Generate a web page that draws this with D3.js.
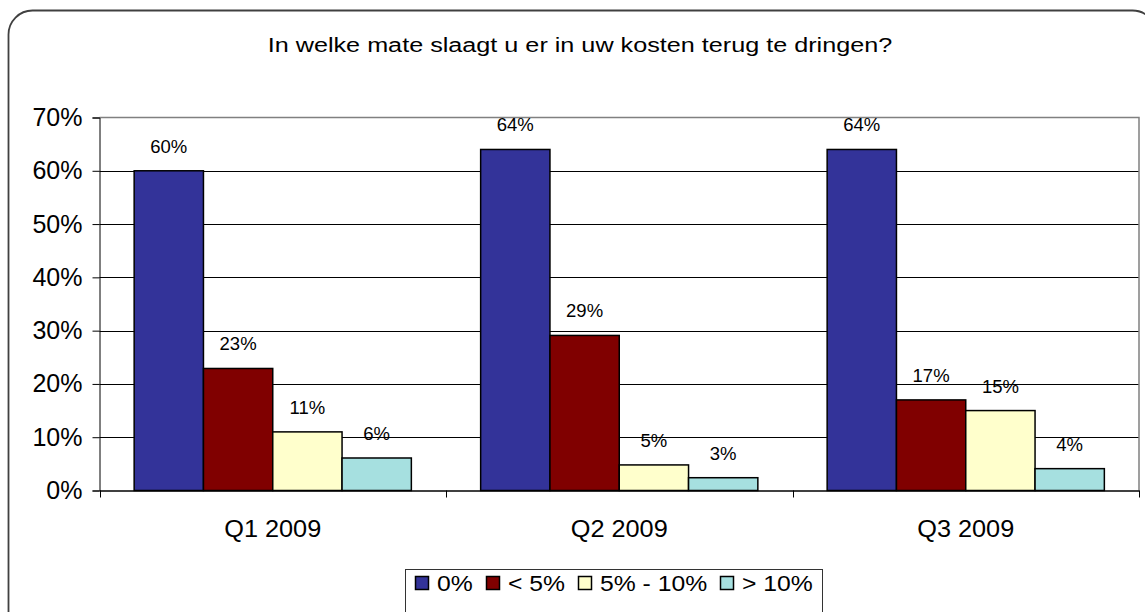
<!DOCTYPE html>
<html>
<head>
<meta charset="utf-8">
<script src="https://cdn.jsdelivr.net/npm/d3@7"></script>
<style>
body { margin: 0; background: #fff; }
text { font-family: "Liberation Sans", Arial, sans-serif; fill: #000; }
</style>
</head>
<body>
<script>
var title = "In welke mate slaagt u er in uw kosten terug te dringen?";
var quarters = ["Q1 2009", "Q2 2009", "Q3 2009"];
var seriesNames = ["0%", "< 5%", "5% - 10%", "> 10%"];
var seriesColors = ["#333399", "#800000", "#ffffcc", "#a6e0e0"];
// values per series, one per quarter (in %)
var s0 = [60, 64, 64];
var s1 = [22.9, 29.1, 17];
var s2 = [11, 4.8, 15];
var s3 = [6.1, 2.4, 4.1];
var labels = [["60%", "64%", "64%"], ["23%", "29%", "17%"], ["11%", "5%", "15%"], ["6%", "3%", "4%"]];
var yTicks = [0, 10, 20, 30, 40, 50, 60, 70];

var series = [s0, s1, s2, s3];

var W = 1145, H = 612;
var plot = {left: 99.5, top: 117.5, right: 1139, bottom: 490.5};

var svg = d3.select("body").append("svg")
    .attr("width", W)
    .attr("height", H);

// outer frame with rounded corners (runs off the right and bottom)
svg.append("rect")
    .attr("x", 8.5).attr("y", 10.5)
    .attr("width", 1148).attr("height", 640)
    .attr("rx", 24).attr("ry", 24)
    .attr("fill", "#fff")
    .attr("stroke", "#404040").attr("stroke-width", 1.8);

// title, widened horizontally like the source picture
svg.append("text")
    .attr("transform", "translate(580,52) scale(1.2,1)")
    .attr("text-anchor", "middle")
    .attr("font-size", "21px")
    .text(title);

var x0 = d3.scaleBand()
    .domain(quarters)
    .range([plot.left, plot.right]);

var x1 = d3.scaleBand()
    .domain(d3.range(series.length))
    .range([0, x0.bandwidth()])
    .paddingOuter(0.5);

var y = d3.scaleLinear()
    .domain([0, 70])
    .range([plot.bottom, plot.top]);

// gridlines
svg.append("g").selectAll("line")
    .data(yTicks.filter(function(d) { return d > 0 && d < 70; }))
    .enter().append("line")
    .attr("x1", plot.left).attr("x2", plot.right)
    .attr("y1", function(d) { return Math.round(y(d)) + 0.5; })
    .attr("y2", function(d) { return Math.round(y(d)) + 0.5; })
    .attr("stroke", "#000").attr("stroke-width", 1);

// plot border top + right (grey)
svg.append("path")
    .attr("d", "M" + plot.left + "," + plot.top + "H" + plot.right + "V" + plot.bottom)
    .attr("fill", "none").attr("stroke", "#808080").attr("stroke-width", 1.5);

// bars
var groups = svg.append("g").selectAll("g")
    .data(series)
    .enter().append("g");

groups.selectAll("rect")
    .data(function(d, i) { return d.map(function(v, j) { return {s: i, q: j, v: v}; }); })
    .enter().append("rect")
    .attr("x", function(d) { return x0(quarters[d.q]) + x1(d.s); })
    .attr("y", function(d) { return y(d.v); })
    .attr("width", x1.bandwidth())
    .attr("height", function(d) { return y(0) - y(d.v); })
    .attr("fill", function(d) { return seriesColors[d.s]; })
    .attr("stroke", "#000").attr("stroke-width", 1.5);

groups.selectAll("text")
    .data(function(d, i) { return d.map(function(v, j) { return {s: i, q: j, v: v}; }); })
    .enter().append("text")
    .attr("x", function(d) { return x0(quarters[d.q]) + x1(d.s) + x1.bandwidth() / 2; })
    .attr("y", function(d) { return y(d.v) - 18; })
    .attr("text-anchor", "middle")
    .attr("font-size", "18.5px")
    .text(function(d) { return labels[d.s][d.q]; });

// y axis
var yAxis = d3.axisLeft(y)
    .tickValues(yTicks)
    .tickSize(7)
    .tickPadding(10)
    .tickFormat(function(d) { return d + "%"; });

var gy = svg.append("g")
    .attr("transform", "translate(" + plot.left + ",0)")
    .call(yAxis);
gy.select(".domain").attr("stroke", "#000").attr("stroke-width", 1);
gy.selectAll(".tick line").attr("stroke", "#000");
gy.selectAll(".tick text")
    .attr("font-size", "25px")
    .attr("font-family", "Liberation Sans, Arial, sans-serif")
    .attr("fill", "#000");

// x axis
var xAxis = d3.axisBottom(x0).tickSize(0).tickPadding(0);
var gx = svg.append("g")
    .attr("transform", "translate(0," + plot.bottom + ")")
    .call(xAxis);
gx.select(".domain").attr("stroke", "#000").attr("stroke-width", 1.5);
gx.selectAll(".tick text")
    .attr("font-size", "23px")
    .attr("font-family", "Liberation Sans, Arial, sans-serif")
    .attr("fill", "#000")
    .attr("dy", null)
    .attr("y", null)
    .attr("transform", "translate(0,46) scale(1.1,1)");

// category separator ticks
gx.append("g").selectAll("line")
    .data(quarters.concat(["end"]))
    .enter().append("line")
    .attr("x1", function(d, i) { return Math.round(plot.left + i * x0.bandwidth()) + 0.5; })
    .attr("x2", function(d, i) { return Math.round(plot.left + i * x0.bandwidth()) + 0.5; })
    .attr("y1", 0).attr("y2", 7)
    .attr("stroke", "#000");

// legend
var legend = svg.append("g");
legend.append("rect")
    .attr("x", 405.5).attr("y", 569.5)
    .attr("width", 417).attr("height", 60)
    .attr("fill", "#fff").attr("stroke", "#333").attr("stroke-width", 1);

var legX = [415, 486, 578, 720];
var li = legend.selectAll(".leg")
    .data(seriesNames)
    .enter().append("g")
    .attr("class", "leg")
    .attr("transform", function(d, i) { return "translate(" + legX[i] + ",0)"; });
li.append("rect")
    .attr("x", 0.5).attr("y", 576.5)
    .attr("width", 13).attr("height", 13)
    .attr("fill", function(d, i) { return seriesColors[i]; })
    .attr("stroke", "#000").attr("stroke-width", 1.5);
li.append("text")
    .attr("transform", "translate(22,591) scale(1.15,1)")
    .attr("font-size", "21.5px")
    .text(function(d) { return d; });
</script>
</body>
</html>
